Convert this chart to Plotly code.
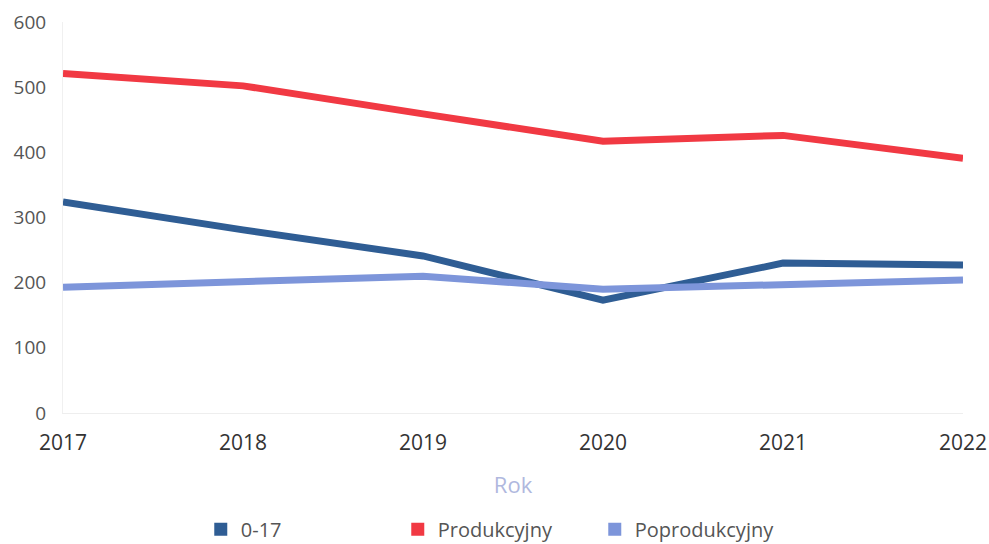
import plotly.graph_objects as go

years = [2017, 2018, 2019, 2020, 2021, 2022]
v_0_17 = [324, 281, 241, 173, 230, 227]
v_prod = [521, 502, 459, 417, 426, 391]
v_poprod = [193, 202, 210, 190, 197, 204]

names = ["0-17", "Produkcyjny", "Poprodukcyjny"]
colors = ["#2F5D94", "#F13943", "#7D95DA"]
series = [v_0_17, v_prod, v_poprod]

fig = go.Figure()
for n, c, s in zip(names, colors, series):
    fig.add_trace(go.Scatter(x=years, y=s, mode="lines", name=n,
                             line=dict(color=c, width=7), showlegend=False))
for n, c in zip(names, colors):
    fig.add_trace(go.Scatter(x=[None], y=[None], mode="markers", name=n,
                             marker=dict(symbol="square", size=13, color=c)))

fig.update_layout(
    width=989, height=544,
    margin=dict(l=63, r=26, t=22, b=131),
    paper_bgcolor="white", plot_bgcolor="white",
    font=dict(family="Open Sans, Noto Sans, sans-serif", size=19, color="#444444"),
    xaxis=dict(range=[2017, 2022], tickvals=years, ticktext=[str(y) for y in years],
               showgrid=False, zeroline=False, showline=True, linecolor="#EEEEEE",
               linewidth=1, ticks="", ticklabelstandoff=11, automargin=False,
               tickfont=dict(size=21, color="#333333"),
               title=dict(text="Rok", font=dict(size=22, color="#B0B8DE"), standoff=22)),
    yaxis=dict(range=[0, 600], tickvals=[0, 100, 200, 300, 400, 500, 600],
               showgrid=False, zeroline=False, showline=True, linecolor="#F0F0F0",
               linewidth=1, ticks="", ticklabelstandoff=12, automargin=False,
               tickfont=dict(size=19, color="#555555")),
    legend=dict(orientation="h", xref="container", x=0.203, xanchor="left",
                yref="container", y=0.027, yanchor="middle",
                entrywidth=152, entrywidthmode="pixels",
                font=dict(size=20, color="#555555")),
)

fig.write_html("out.html", config={"displayModeBar": False},
               post_script="document.body.style.margin='0';document.body.style.overflow='hidden';")
